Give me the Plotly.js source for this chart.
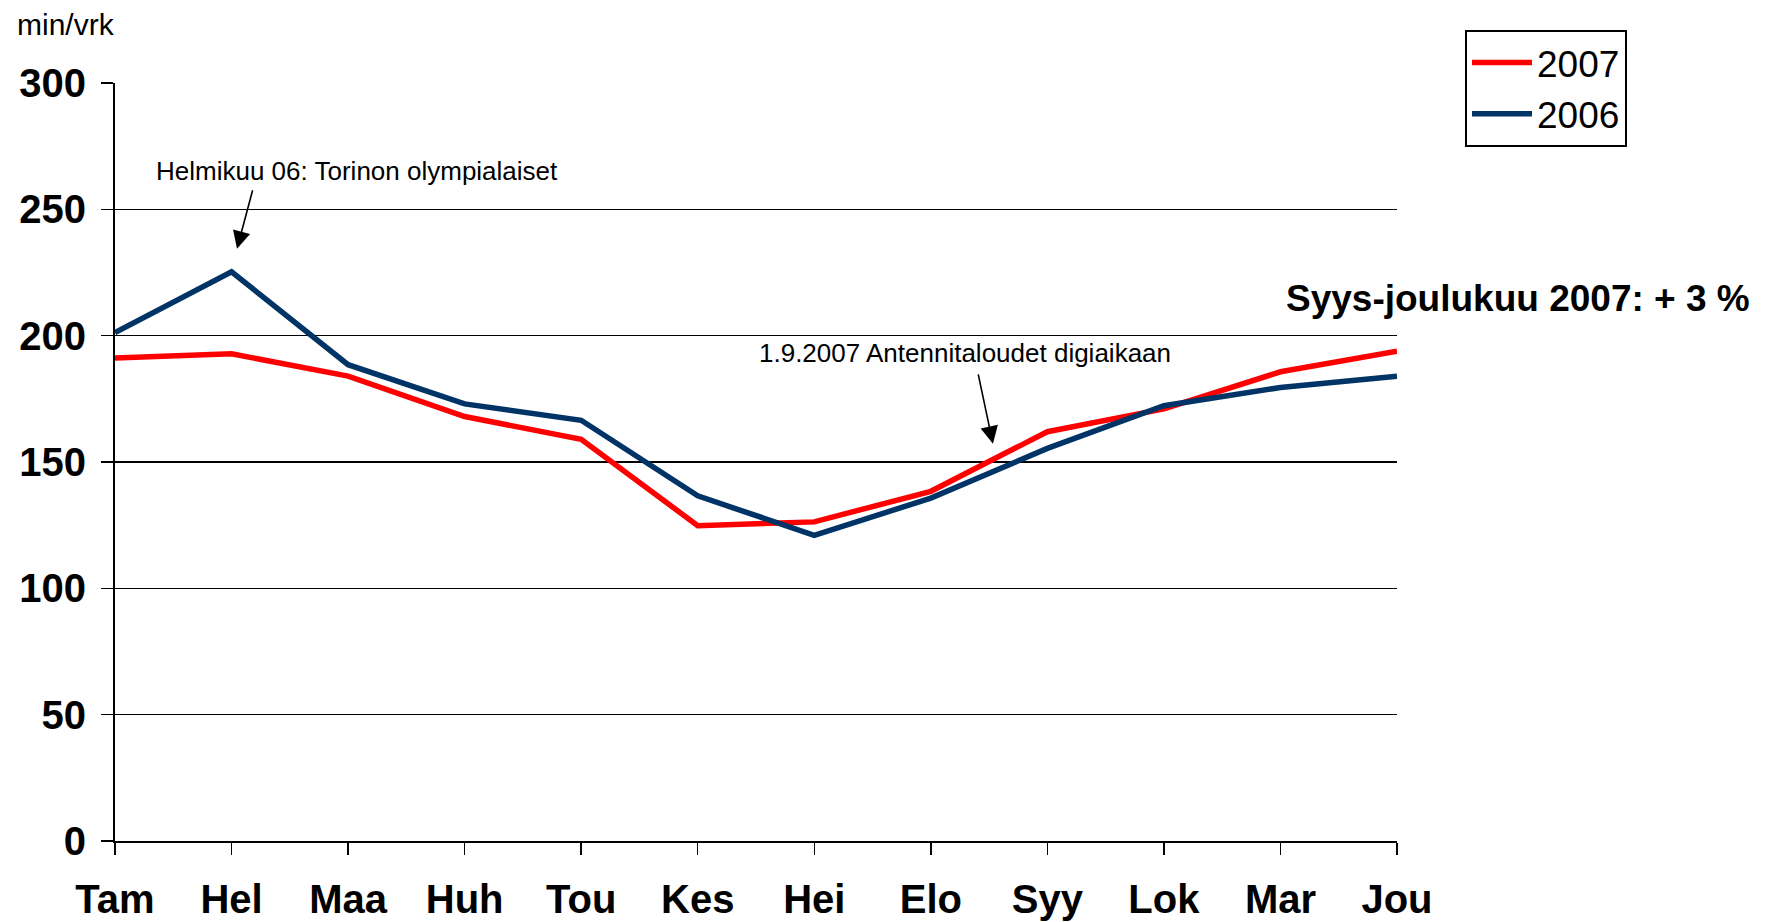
<!DOCTYPE html>
<html>
<head>
<meta charset="utf-8">
<script src="https://cdn.plot.ly/plotly-3.0.1.min.js"></script>
<style>html,body{margin:0;padding:0;background:#fff;}#chart{width:1767px;height:922px;}</style>
</head>
<body>
<div id="chart"></div>
<script>
const months = ["Tam","Hel","Maa","Huh","Tou","Kes","Hei","Elo","Syy","Lok","Mar","Jou"];
const values2007 = [191.2, 192.8, 184.0, 168.0, 159.0, 124.8, 126.3, 138.4, 162.0, 171.0, 185.7, 193.8];
const values2006 = [201.2, 225.3, 188.5, 173.0, 166.5, 136.6, 121.0, 135.7, 155.4, 172.3, 179.5, 183.9];
const yTicks = [0, 50, 100, 150, 200, 250, 300];

const FONT = '"Liberation Sans", Arial, sans-serif';

const traces = [
  {x: months, y: values2007, name: '2007', type: 'scatter', mode: 'lines',
   line: {color: '#FF0000', width: 5.5}, cliponaxis: false},
  {x: months, y: values2006, name: '2006', type: 'scatter', mode: 'lines',
   line: {color: '#003366', width: 5.5}, cliponaxis: false}
];

const layout = {
  width: 1767, height: 922,
  paper_bgcolor: '#ffffff', plot_bgcolor: '#ffffff',
  font: {family: FONT, color: '#000000'},
  margin: {l: 115, r: 370, t: 83, b: 81},
  showlegend: true,
  legend: {
    xref: 'container', yref: 'container',
    x: 1465/1767, y: 1 - 30/922, xanchor: 'left', yanchor: 'top',
    bordercolor: '#000000', borderwidth: 2, bgcolor: '#ffffff',
    font: {family: FONT, size: 37, color: '#000000'},
    itemwidth: 60, tracegroupgap: 0
  },
  xaxis: {
    type: 'category', range: [0, 11],
    showgrid: false, zeroline: false,
    showline: true, linecolor: '#000000', linewidth: 2,
    ticks: 'outside', ticklen: 12, tickwidth: 1.5, tickcolor: '#000000',
    ticklabelstandoff: 10,
    tickfont: {family: FONT, size: 40, color: '#000000', weight: 'bold'}
  },
  yaxis: {
    range: [0, 300], tickvals: yTicks,
    showgrid: true, gridcolor: '#000000', gridwidth: 1.6,
    zeroline: false,
    showline: true, linecolor: '#000000', linewidth: 2,
    ticks: 'outside', ticklen: 12, tickwidth: 1.6, tickcolor: '#000000',
    ticklabelstandoff: 7,
    tickfont: {family: FONT, size: 40, color: '#000000', weight: 'bold'}
  },
  annotations: [
    {xref: 'paper', yref: 'paper', x: (15-115)/1282, y: (841-25)/757.6,
     xanchor: 'left', yanchor: 'middle', showarrow: false,
     text: 'min/vrk', font: {family: FONT, size: 30, color: '#000000'}},
    {xref: 'x', yref: 'y', x: 2.08, y: 265.3, xanchor: 'center', yanchor: 'middle',
     showarrow: false, text: 'Helmikuu 06: Torinon olympialaiset',
     font: {family: FONT, size: 26, color: '#000000'}},
    {xref: 'x', yref: 'y', x: 1.047, y: 234.4, text: '', showarrow: true,
     ax: 16, ay: -60, arrowhead: 2, arrowsize: 2.2, arrowwidth: 1.6, arrowcolor: '#000000', standoff: 0},
    {xref: 'x', yref: 'y', x: 7.297, y: 193.2, xanchor: 'center', yanchor: 'middle',
     showarrow: false, text: '1.9.2007 Antennitaloudet digiaikaan',
     font: {family: FONT, size: 26, color: '#000000'}},
    {xref: 'x', yref: 'y', x: 7.533, y: 157.2, text: '', showarrow: true,
     ax: -15, ay: -71, arrowhead: 2, arrowsize: 2.2, arrowwidth: 1.6, arrowcolor: '#000000', standoff: 0},
    {xref: 'paper', yref: 'paper', x: (1752-115)/1282, y: (841-299)/757.6,
     xanchor: 'right', yanchor: 'middle', showarrow: false,
     text: '<b>Syys-joulukuu 2007: + 3 %</b>',
     font: {family: FONT, size: 37, color: '#000000'}}
  ]
};

Plotly.newPlot('chart', traces, layout, {staticPlot: true, displayModeBar: false});
</script>
</body>
</html>
